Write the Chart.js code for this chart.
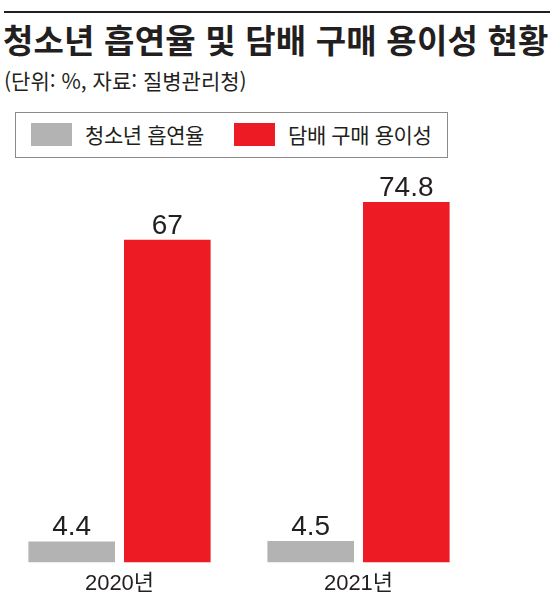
<!DOCTYPE html>
<html lang="ko">
<head>
<meta charset="utf-8">
<script src="https://cdn.jsdelivr.net/npm/chart.js@4.4.1/dist/chart.umd.min.js"></script>
<style>
    html, body { margin: 0; padding: 0; background: #fff; }
    body { width: 550px; height: 613px; position: relative; overflow: hidden; color: #231f20; font-family: 'Noto Sans CJK KR', sans-serif; }
    .top-rule { position: absolute; left: 4px; right: 0; top: 11px; height: 2px; background: #231f20; }
    h1 { position: absolute; left: 3px; top: 16px; margin: 0; font-size: 33px; font-weight: 700; line-height: 46px; white-space: nowrap; letter-spacing: 0.2px; }
    .source { position: absolute; left: 4px; top: 66px; font-size: 21px; font-weight: 400; line-height: 28px; white-space: nowrap; letter-spacing: 0; }
    .legend { position: absolute; left: 15px; top: 112px; width: 431px; height: 44px; border: 1px solid #8a8a8a; }
    .legend-item { position: absolute; top: 10px; height: 24px; white-space: nowrap; }
    .legend-item span.box { position: absolute; left: 0; top: 0; width: 41px; height: 23px; }
    .legend-item span.label { position: absolute; left: 54px; top: -6px; font-size: 21px; line-height: 34px; letter-spacing: -0.4px; }
    #chart-wrap { position: absolute; left: 0; top: 160px; width: 550px; height: 453px; }
</style>
</head>
<body>
<div class="top-rule"></div>
<h1>청소년 흡연율 및 담배 구매 용이성 현황</h1>
<div class="source">(단위: %, 자료: 질병관리청)</div>
<div class="legend" id="legend"></div>
<div id="chart-wrap"><canvas id="chart" width="550" height="453"></canvas></div>

<script>
// Data
const categories = ['2020년', '2021년'];
const seriesLabels = ['청소년 흡연율', '담배 구매 용이성'];
const smokingRate = [4.4, 4.5];
const purchaseEase = [67, 74.8];
const seriesColors = ['#b3b3b3', '#ed1c24'];

// Legend (HTML, built from the series)
const legend = document.getElementById('legend');
const legendLeft = [15, 218];
seriesLabels.forEach((label, i) => {
    const item = document.createElement('div');
    item.className = 'legend-item';
    item.style.left = legendLeft[i] + 'px';
    item.innerHTML = `<span class="box" style="background:${seriesColors[i]}"></span><span class="label">${label}</span>`;
    legend.appendChild(item);
});

// Value labels above bars
const valueLabels = {
    id: 'valueLabels',
    afterDatasetsDraw(chart) {
        const ctx = chart.ctx;
        ctx.save();
        ctx.fillStyle = '#231f20';
        ctx.font = "28px 'Liberation Sans', Arial, sans-serif";
        ctx.textAlign = 'center';
        ctx.textBaseline = 'alphabetic';
        chart.data.datasets.forEach((ds, i) => {
            chart.getDatasetMeta(i).data.forEach((bar, j) => {
                ctx.fillText(String(ds.data[j]), bar.x, bar.y - 6);
            });
        });
        ctx.restore();
    }
};

new Chart(document.getElementById('chart'), {
    type: 'bar',
    data: {
        labels: categories,
        datasets: [
            { label: seriesLabels[0], data: smokingRate, backgroundColor: seriesColors[0], categoryPercentage: 0.8, barPercentage: 0.906 },
            { label: seriesLabels[1], data: purchaseEase, backgroundColor: seriesColors[1], categoryPercentage: 0.8, barPercentage: 0.906 }
        ]
    },
    options: {
        responsive: false,
        animation: false,
        layout: { padding: { top: 17, right: 72, left: 0, bottom: 8 } },
        plugins: { legend: { display: false }, tooltip: { enabled: false } },
        scales: {
            x: {
                grid: { display: false, drawTicks: false },
                border: { display: false },
                ticks: {
                    color: '#231f20',
                    padding: 8,
                    font: { family: "'Liberation Sans', 'Noto Sans CJK KR', sans-serif", size: 22 }
                }
            },
            y: { display: false, min: 0, max: 80 }
        }
    },
    plugins: [valueLabels]
});
</script>
</body>
</html>
